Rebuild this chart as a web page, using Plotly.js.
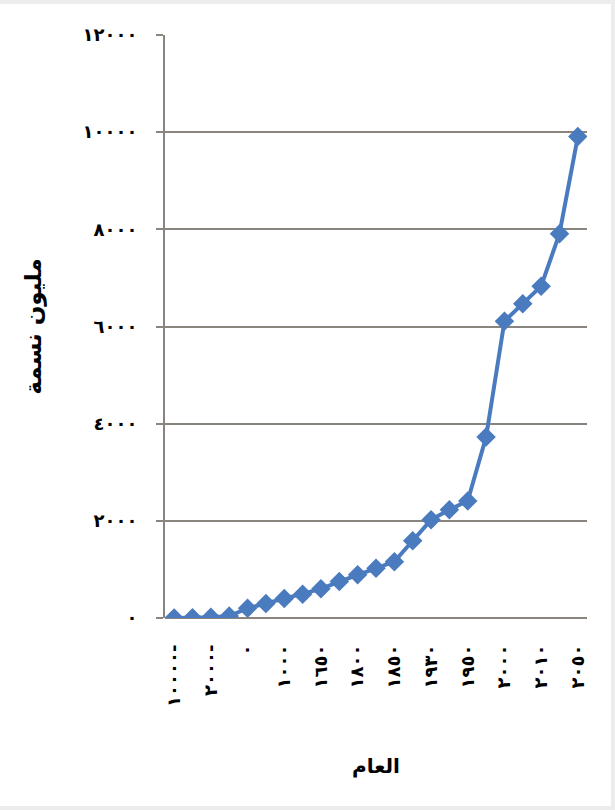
<!DOCTYPE html>
<html>
<head>
<meta charset="utf-8">
<script src="https://cdn.plot.ly/plotly-3.0.1.min.js"></script>
<style>
  html, body { margin: 0; padding: 0; background: #ececec; }
  #chart { position: absolute; left: 0; top: 4px; width: 611px; height: 802px; background: #ffffff; }
</style>
</head>
<body>
<div id="chart"></div>
<script>
// Years (categories), as printed on the chart (Arabic-Indic digits)
const years = [
  "١٠٠٠٠-", "٨٠٠٠-", "٢٠٠٠-", "١٠٠٠-", "٠", "٥٠٠", "١٠٠٠", "١٥٠٠",
  "١٦٥٠", "١٧٥٠", "١٨٠٠", "١٨٠٤", "١٨٥٠", "١٩٠٠", "١٩٣٠", "١٩٤٠",
  "١٩٥٠", "١٩٧٠", "٢٠٠٠", "٢٠٠٥", "٢٠١٠", "٢٠٢٥", "٢٠٥٠"
];
// Population, million persons
const population = [
  2, 5, 15, 40, 200, 300, 400, 490,
  600, 750, 890, 1025, 1160, 1590, 2020, 2230,
  2410, 3725, 6110, 6470, 6830, 7910, 9910
];
// Y axis ticks
const yTickVals = [0, 2000, 4000, 6000, 8000, 10000, 12000];
const yTickText = ["٠", "٢٠٠٠", "٤٠٠٠", "٦٠٠٠", "٨٠٠٠", "١٠٠٠٠", "١٢٠٠٠"];
// Only every other year is labelled
const xTickVals = years.filter((y, i) => i % 2 === 0);

const xTitle = "العام";
const yTitle = "مليون نسمة";

const gridCol = "#8a847f";
const fontFam = "DejaVu Sans, sans-serif";
const bold = s => "<b>" + s + "</b>";

const trace = {
  x: years,
  y: population,
  type: "scatter",
  mode: "lines+markers",
  line: { color: "#4a7bbf", width: 4 },
  marker: { symbol: "diamond", size: 15, color: "#4a7bbf" },
  hoverinfo: "skip"
};

const layout = {
  width: 611,
  height: 802,
  margin: { l: 165, r: 24, t: 31, b: 188 },
  paper_bgcolor: "#ffffff",
  plot_bgcolor: "#ffffff",
  showlegend: false,
  font: { family: fontFam, color: "#000000" },
  xaxis: {
    type: "category",
    categoryorder: "array",
    categoryarray: years,
    tickmode: "array",
    tickvals: xTickVals,
    ticktext: xTickVals.map(bold),
    tickangle: -90,
    tickfont: { family: fontFam, size: 18, color: "#000" },
    ticks: "",
    showgrid: false,
    zeroline: false,
    showline: false,
    ticklabelstandoff: 22,
    range: [-0.5, years.length - 0.5],
    title: { text: bold(xTitle), font: { family: fontFam, size: 20, color: "#000" }, standoff: 52 }
  },
  yaxis: {
    range: [0, 12000],
    tickmode: "array",
    tickvals: yTickVals,
    ticktext: yTickText.map(bold),
    tickfont: { family: fontFam, size: 18, color: "#000" },
    showgrid: true,
    gridcolor: gridCol,
    gridwidth: 2,
    zeroline: true,
    zerolinecolor: gridCol,
    zerolinewidth: 2,
    showline: true,
    linecolor: gridCol,
    linewidth: 2,
    ticks: "outside",
    ticklen: 7,
    tickcolor: gridCol,
    tickwidth: 2,
    ticklabelstandoff: 15,
    title: { text: bold(yTitle), font: { family: fontFam, size: 23, color: "#000" }, standoff: 34 }
  }
};

Plotly.newPlot("chart", [trace], layout, { displayModeBar: false, staticPlot: true });
</script>
</body>
</html>
